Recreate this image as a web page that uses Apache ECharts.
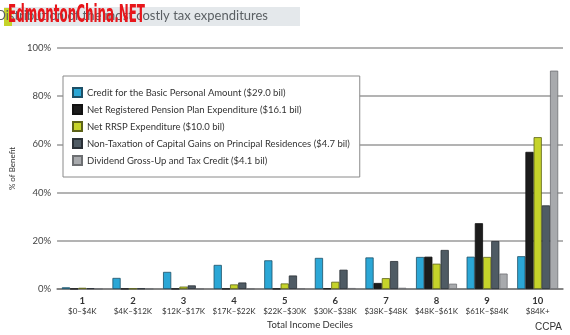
<!DOCTYPE html>
<html>
<head>
<meta charset="utf-8">
<script src="https://cdn.jsdelivr.net/npm/echarts@6/dist/echarts.min.js"></script>
<style>
  html, body { margin: 0; padding: 0; background: #fff; }
  #chart { width: 570px; height: 335px; }
</style>
</head>
<body>
<div id="chart"></div>
<script>
// Income deciles
const deciles = ['1', '2', '3', '4', '5', '6', '7', '8', '9', '10'];
const incomeRanges = ['$0–$4K', '$4K–$12K', '$12K–$17K', '$17K–$22K', '$22K–$30K',
  '$30K–$38K', '$38K–$48K', '$48K–$61K', '$61K–$84K', '$84K+'];

// Share of each benefit (%) received by each decile
const basicPersonal = [0.7, 4.6, 7.1, 10.0, 11.9, 12.9, 13.1, 13.3, 13.4, 13.6];
const pensionPlan   = [0.1, 0.1, 0.1, 0.1, 0.1, 0.2, 2.5, 13.4, 27.3, 56.9];
const rrsp          = [0.5, 0.2, 1.0, 1.9, 2.3, 3.0, 4.5, 10.5, 13.3, 63.0];
const capitalGains  = [0.3, 0.2, 1.5, 2.7, 5.6, 8.0, 11.6, 16.2, 19.9, 34.7];
const dividend      = [0.1, 0.1, 0.1, 0.1, 0.2, 0.4, 0.5, 2.2, 6.4, 90.6];

const seriesNames = [
  'Credit for the Basic Personal Amount ($29.0 bil)',
  'Net Registered Pension Plan Expenditure ($16.1 bil)',
  'Net RRSP Expenditure ($10.0 bil)',
  'Non-Taxation of Capital Gains on Principal Residences ($4.7 bil)',
  'Dividend Gross-Up and Tax Credit ($4.1 bil)'
];
const seriesData = [basicPersonal, pensionPlan, rrsp, capitalGains, dividend];
const fills   = ['#2ba7d6', '#1c1c1c', '#c5d32a', '#4f5b64', '#a8aaad'];
const borders = ['#1d4f66', '#111111', '#5c6218', '#2a3036', '#6d6f72'];

const yTicks = [0, 20, 40, 60, 80, 100];

const FONT = 'Lato, "DejaVu Sans", sans-serif';

// Watermark text is squeezed horizontally to a fixed width
const WM_TEXT = 'EdmontonChina.NET';
const WM_FONT = 'bold 24px "DejaVu Sans"';
const wmCtx = document.createElement('canvas').getContext('2d');
wmCtx.font = WM_FONT;
const wmScale = 137 / wmCtx.measureText(WM_TEXT).width;

const chart = echarts.init(document.getElementById('chart'), null, { renderer: 'canvas' });

chart.setOption({
  animation: false,
  backgroundColor: '#fff',
  textStyle: { fontFamily: FONT },
  grid: { left: 42, right: 7, top: 48, bottom: 42 },
  legend: {
    orient: 'vertical',
    left: 63,
    top: 76,
    backgroundColor: '#fff',
    borderColor: '#8a8a8a',
    borderWidth: 1,
    padding: [11, 10, 11, 9],
    itemWidth: 9,
    itemHeight: 9,
    itemGap: 6,
    icon: 'rect',
    data: seriesNames,
    textStyle: { fontSize: 9.5, color: '#333', fontFamily: FONT }
  },
  xAxis: {
    type: 'category',
    data: deciles,
    axisTick: { show: false },
    axisLine: { lineStyle: { color: '#777', width: 1.5 } },
    axisLabel: {
      margin: 6,
      interval: 0,
      formatter: (v, i) => '{a|' + v + '}\n{b|' + incomeRanges[i] + '}',
      rich: {
        a: { fontSize: 9.5, fontWeight: 'bold', color: '#333', lineHeight: 11, fontFamily: FONT },
        b: { fontSize: 8, color: '#333', lineHeight: 10, fontFamily: FONT }
      }
    },
    name: 'Total Income Deciles',
    nameLocation: 'middle',
    nameGap: 31,
    nameTextStyle: { fontSize: 9.5, color: '#333', fontFamily: FONT }
  },
  yAxis: {
    type: 'value',
    min: 0,
    max: 100,
    interval: 20,
    axisLine: { show: false },
    axisTick: { show: false },
    splitLine: { lineStyle: { color: '#9a9a9a', width: 1.5 } },
    axisLabel: {
      margin: 6,
      fontSize: 9.5,
      color: '#444',
      fontFamily: FONT,
      formatter: v => yTicks.includes(v) ? v + '%' : ''
    },
    name: '% of Benefit',
    nameLocation: 'middle',
    nameGap: 31,
    nameTextStyle: { fontSize: 8, color: '#333', fontFamily: FONT }
  },
  series: seriesData.map((d, i) => ({
    name: seriesNames[i],
    type: 'bar',
    data: d,
    barGap: '0%',
    barCategoryGap: '19%',
    itemStyle: { color: fills[i], borderColor: borders[i], borderWidth: 0.8 }
  })),
  graphic: [
    // title band
    { type: 'rect', x: 4, y: 7, shape: { width: 296, height: 19 }, style: { fill: '#e4e8eb' }, z: 1 },
    { type: 'rect', x: 4, y: 8, shape: { width: 8, height: 18 }, style: { fill: '#c5d32a' }, z: 2 },
    { type: 'text', x: 268, y: 9,
      style: { text: 'Distribution of the most costly tax expenditures', fontSize: 13, fill: '#5a5f63',
        fontFamily: FONT, align: 'right', verticalAlign: 'top' }, z: 3 },
    { type: 'text', x: 8, y: 4, scaleX: wmScale, originX: 0, originY: 0,
      style: { text: WM_TEXT, font: WM_FONT, fill: '#e8161b', align: 'left', verticalAlign: 'top' }, z: 4 },
    { type: 'text', x: 562, y: 322,
      style: { text: 'CCPA', fontSize: 10, fill: '#333', fontFamily: '"Liberation Sans", Arial, sans-serif',
        align: 'right', verticalAlign: 'top' }, z: 4 }
  ]
});
</script>
</body>
</html>
